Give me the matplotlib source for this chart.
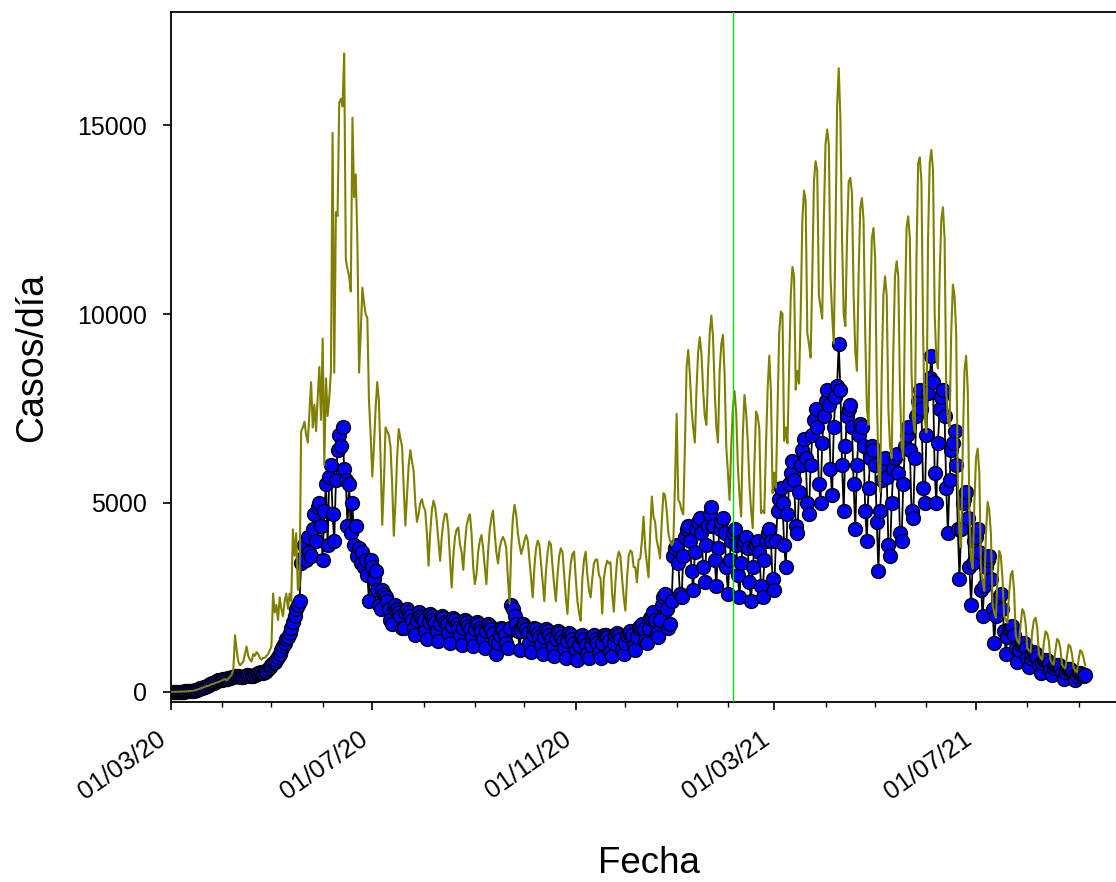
import numpy as np
import pandas as pd
import matplotlib
matplotlib.use("Agg")
import matplotlib.pyplot as plt
import matplotlib.dates as mdates
from matplotlib.transforms import ScaledTranslation

plt.rcParams['font.family'] = ['Liberation Sans', 'DejaVu Sans']

# daily values, one row per week (Mon..Sun), first day 2020-03-02
inicio = "2020-03-02"
vacunacion = "2021-02-04"

casos_mar_jun20 = [
    0, 1, 1, 2, 3, 4, 6,
    7, 9, 12, 15, 20, 25, 31,
    45, 60, 80, 95, 110, 125, 140,
    160, 180, 200, 220, 240, 260, 280,
    300, 310, 320, 330, 340, 350, 360,
    370, 380, 400, 410, 420, 410, 400,
    390, 400, 420, 440, 450, 430, 410,
    420, 450, 480, 500, 510, 520, 500,
    530, 560, 600, 650, 700, 750, 800,
    850, 920, 1000, 1100, 1200, 1300, 1400,
    1450, 1550, 1700, 1850, 2000, 2200, 2300,
    2400, 3400, 3550, 3900, 3500, 4100, 3700,
    3600, 4300, 4700, 4000, 4900, 5000, 4400,
    3500, 4800, 5500, 3900, 5700, 6000, 4700,
    4000, 5600, 6400, 6800, 6500, 7000, 5900,
    5600, 4400, 5500, 4200, 5000, 3900, 4400,
    3600, 3800, 3400, 3700, 3300, 3500, 3100,
    2400, 3500, 3300, 3000, 3200, 2700, 2300,
]
casos_jul_oct20 = [
    2200, 2700, 2600, 2500, 2400, 2200, 1900,
    1800, 2200, 2300, 2200, 2100, 2000, 1700,
    1700, 2100, 2200, 2100, 2000, 1900, 1700,
    1500, 1900, 2100, 2000, 1950, 1900, 1600,
    1400, 1850, 2050, 2000, 1900, 1850, 1600,
    1350, 1800, 2000, 1950, 1850, 1800, 1550,
    1300, 1750, 1950, 1900, 1800, 1700, 1500,
    1250, 1700, 1900, 1850, 1750, 1650, 1450,
    1200, 1650, 1850, 1800, 1700, 1600, 1400,
    1150, 1600, 1800, 1750, 1650, 1550, 1350,
    1000, 1300, 1500, 1700, 1650, 1500, 1300,
    1150, 1700, 2300, 2200, 2000, 1800, 1600,
    1100, 1600, 1800, 1750, 1650, 1550, 1300,
    1050, 1500, 1700, 1650, 1550, 1450, 1250,
    1000, 1450, 1650, 1600, 1500, 1400, 1200,
    950, 1400, 1600, 1550, 1450, 1350, 1150,
    900, 1350, 1550, 1500, 1400, 1300, 1100,
]
casos_nov20_feb21 = [
    850, 1250, 1450, 1500, 1400, 1250, 1000,
    900, 1250, 1450, 1500, 1400, 1300, 1050,
    900, 1300, 1500, 1500, 1450, 1350, 1050,
    950, 1300, 1500, 1550, 1500, 1400, 1100,
    1000, 1300, 1500, 1550, 1600, 1500, 1200,
    1100, 1450, 1700, 1750, 1800, 1650, 1350,
    1300, 1700, 1950, 2000, 2100, 1900, 1550,
    1450, 1900, 2300, 2500, 2600, 2200, 1700,
    1800, 2400, 3600, 3800, 3900, 3400, 2600,
    2500, 3600, 4100, 4300, 4400, 4000, 3200,
    2700, 3700, 4300, 4500, 4600, 4200, 3300,
    2900, 3900, 4400, 4700, 4900, 4400, 3500,
    2800, 3800, 4300, 4500, 4600, 4200, 3300,
    2600, 3500, 4000, 4200, 4300, 3900, 3100,
    2500, 3400, 3900, 4000, 4100, 3800, 2900,
    2400, 3300, 3800, 3900, 4000, 3700, 2800,
    2500, 3500, 4000, 4200, 4300, 4000, 3000,
]
casos_mar_jun21 = [
    2700, 4000, 4800, 5100, 5400, 5000, 3900,
    3300, 4700, 5500, 5800, 6100, 5600, 4400,
    4200, 5300, 6000, 6400, 6700, 6200, 5000,
    4700, 6000, 6800, 7200, 7500, 7000, 5500,
    5000, 6600, 7300, 7700, 8000, 7600, 5900,
    5200, 7000, 7800, 8100, 9200, 8000, 6000,
    4800, 6500, 7300, 7500, 7600, 7000, 5500,
    4300, 6000, 6800, 7100, 7000, 6500, 4800,
    4000, 5400, 6200, 6500, 6400, 6000, 4500,
    3200, 4800, 5600, 6000, 6200, 5700, 3900,
    3600, 5000, 5900, 6200, 6300, 5800, 4200,
    4000, 5500, 6500, 6800, 7000, 6400, 4800,
    4600, 6200, 7300, 7700, 8000, 7500, 5400,
    5000, 6800, 7900, 8300, 8900, 8200, 5800,
    5000, 6600, 7500, 7800, 8000, 7300, 5400,
    4200, 5600, 6400, 6600, 6900, 6000, 4300,
    3000, 4300, 5000, 5100, 5300, 4600, 3300,
]
casos_jul_sep21 = [
    2300, 3400, 4000, 4100, 4300, 3700, 2700,
    2000, 2800, 3300, 3500, 3600, 3000, 2200,
    1300, 2000, 2400, 2500, 2600, 2200, 1600,
    1000, 1450, 1650, 1700, 1750, 1500, 1150,
    800, 1100, 1250, 1300, 1300, 1150, 900,
    650, 900, 1000, 1050, 1000, 900, 700,
    500, 750, 850, 850, 850, 750, 580,
    450, 620, 700, 700, 700, 620, 500,
    350, 520, 600, 600, 600, 530, 420,
    300, 430, 500, 500, 480, 420, 450,
]

olive_mar_jun20 = [
    0, 0, 1, 2, 3, 4, 6,
    8, 10, 12, 15, 20, 25, 30,
    40, 55, 70, 85, 100, 120, 140,
    150, 160, 180, 200, 210, 230, 250,
    260, 280, 300, 320, 340, 300, 350,
    400, 450, 600, 1500, 1100, 800, 700,
    750, 800, 1000, 1200, 950, 850, 800,
    1000, 950, 1050, 1000, 900, 850, 900,
    900, 950, 1000, 1100, 1200, 2600, 2100,
    2300, 1900, 2500, 2200, 2000, 2400, 2600,
    2200, 2600, 2400, 4300, 3600, 4200, 2700,
    2800, 6900, 7000, 7150, 6800, 6600, 7400,
    8200, 7000, 7600, 6900, 7800, 8600, 7200,
    9350, 6000, 8300, 7300, 7800, 8500, 14800,
    8450, 12700, 12600, 15600, 15700, 15500, 16900,
    11450, 11200, 11000, 10600, 15200, 13100, 13700,
    11900, 8450, 9500, 10700, 10300, 10000, 9900,
    7700, 6800, 5700, 6500, 7500, 8200, 7700,
]
olive_jul_oct20 = [
    6200, 4420, 5500, 7000, 6900, 6800, 6500,
    5500, 4130, 5000, 6200, 6960, 6700, 6500,
    5400, 4400, 5200, 6000, 6400, 6100, 5850,
    5000, 4500, 4700, 5000, 5100, 4900, 4800,
    4200, 3340, 4200, 4800, 5060, 4900, 4500,
    4000, 3470, 4100, 4500, 4720, 4700, 4300,
    3500, 2760, 3600, 4100, 4300, 4350, 3900,
    3700, 3230, 3900, 4400, 4590, 4700, 4200,
    3300, 2850, 3100, 3700, 4000, 4150, 3800,
    3300, 2850, 3700, 4300, 4600, 4800, 4200,
    3700, 3400, 3800, 4000, 4100, 4000, 3800,
    3000, 2330, 3800, 4600, 4950, 4700, 4200,
    3900, 3650, 3800, 4000, 4150, 4000, 3500,
    3000, 2500, 3300, 3800, 4000, 3900, 3400,
    2900, 2400, 3200, 3700, 3980, 3900, 3300,
    2800, 2400, 3100, 3600, 3800, 3700, 3100,
    2500, 2060, 2900, 3400, 3650, 3710, 3000,
]
olive_nov20_feb21 = [
    2400, 2100, 1880, 3000, 3500, 3710, 3100,
    2700, 2500, 3000, 3400, 3500, 3500, 3100,
    3000, 2070, 3000, 3300, 3470, 3400, 3430,
    2600, 2120, 2900, 3500, 3710, 3600, 3000,
    2500, 2150, 3000, 3600, 3740, 3700, 3300,
    3300, 2900, 3500, 3530, 4000, 4640, 3800,
    3400, 3030, 4200, 5170, 4640, 4500, 4000,
    3800, 3530, 4500, 5260, 5200, 4800, 4200,
    4000, 3880, 3970, 5500, 7360, 5080, 5000,
    4800, 4700, 6500, 8600, 9050, 8400, 7500,
    7000, 6600, 8000, 9000, 9390, 8950, 8000,
    7300, 7070, 8500, 9500, 9960, 9400, 8000,
    7000, 6600, 8500, 9200, 9450, 8400, 6500,
    5800, 5080, 6500, 7500, 7960, 7400, 6000,
    5200, 4640, 6800, 7860, 7400, 6640, 5500,
    4800, 4330, 6000, 7420, 7300, 6960, 4730,
    4800, 4730, 6500, 8000, 8900, 7980, 5260,
]
olive_mar_jun21 = [
    5800, 5400, 7500, 9500, 10070, 10010, 6640,
    7000, 6580, 8500, 10500, 11250, 11000, 8000,
    8500, 8160, 10000, 12500, 13270, 13000, 9500,
    9200, 8850, 11000, 13500, 14050, 13800, 10500,
    10200, 9880, 12500, 14500, 14890, 14500, 11000,
    10000, 9220, 12000, 15500, 16510, 15200, 12000,
    10000, 9680, 12000, 13500, 13610, 13200, 10500,
    9000, 8500, 11000, 12800, 13070, 12500, 9500,
    7500, 7070, 10000, 12000, 12280, 11500, 8000,
    5800, 5300, 8500, 10500, 11000, 10500, 7500,
    6500, 6190, 9000, 11000, 11400, 11000, 8000,
    6500, 6190, 10000, 12300, 12590, 12000, 8500,
    7200, 6870, 11500, 14000, 14150, 13500, 9500,
    7200, 6870, 12000, 14000, 14350, 13800, 10000,
    8800, 8560, 11000, 12500, 12830, 12000, 8000,
    7200, 7020, 9500, 10780, 10500, 9500, 5500,
    4200, 3830, 6500, 8500, 8900, 8000, 4800,
]
olive_jul_sep21 = [
    3500, 3260, 5000, 6200, 6440, 5800, 3200,
    2900, 2670, 4200, 5030, 4800, 4200, 2300,
    2100, 1960, 3000, 3730, 3600, 3000, 2000,
    1900, 1830, 2600, 3100, 3200, 2700, 1500,
    1350, 1280, 1800, 2190, 2100, 1800, 1150,
    1100, 1050, 1600, 1900, 1960, 1700, 1000,
    900, 850, 1300, 1600, 1550, 1350, 850,
    750, 720, 1100, 1400, 1350, 1150, 720,
    650, 620, 950, 1250, 1200, 1000, 650,
    550, 520, 850, 1100, 1050, 900, 700,
]

fechas_x = ["2020-03-01", "2020-07-01", "2020-11-01", "2021-03-01", "2021-07-01"]
etiquetas_x = ["01/03/20", "01/07/20", "01/11/20", "01/03/21", "01/07/21"]
ticks_y = [0, 5000, 10000, 15000]

casos = np.array(casos_mar_jun20 + casos_jul_oct20 + casos_nov20_feb21
                 + casos_mar_jun21 + casos_jul_sep21)
olive = np.array(olive_mar_jun20 + olive_jul_oct20 + olive_nov20_feb21
                 + olive_mar_jun21 + olive_jul_sep21)
fechas = pd.date_range(inicio, periods=len(casos), freq="D").to_numpy()

fig = plt.figure(figsize=(11.16, 8.82), dpi=100)
# axes run past the right edge of the picture, like the original crop
ax = fig.add_axes([170.5 / 1116, 180 / 882, 957.7 / 1116, 690 / 882])

ax.plot(fechas, casos, '-o', color='black', lw=1.3, ms=10,
        mfc='#0000ff', mec='black', mew=1.0, zorder=2)
ax.plot(fechas, olive, color='#808000', lw=1.5, zorder=3)
ax.axvline(np.datetime64(vacunacion), color='#00e000', lw=1.0, zorder=4)

ax.set_xlim(np.datetime64("2020-03-01"), np.datetime64("2021-10-01"))
ax.set_ylim(-270, 18000)

ax.set_xticks([np.datetime64(d) for d in fechas_x])
ax.set_xticklabels(etiquetas_x, rotation=35, ha='right', rotation_mode='anchor')
ax.xaxis.set_minor_locator(mdates.MonthLocator())
ax.set_yticks(ticks_y)
ax.set_yticklabels([str(v) for v in ticks_y])

for s in ax.spines.values():
    s.set_linewidth(1.3)
ax.tick_params(axis='both', which='major', direction='out', length=6,
               width=1.2, labelsize=18)
ax.tick_params(axis='x', which='major', pad=12, labelsize=18.5)
ax.tick_params(axis='y', which='major', pad=11)
ax.tick_params(axis='x', which='minor', direction='out', length=3.6, width=1.0)

# nudge the slanted date labels a bit to the left
shift = ScaledTranslation(-0.14, 0, fig.dpi_scale_trans)
for lbl in ax.get_xticklabels():
    lbl.set_transform(lbl.get_transform() + shift)

ax.set_ylabel("Casos/día", fontsize=27)
ax.yaxis.set_label_coords(-0.126, 0.5)
ax.set_xlabel("Fecha", fontsize=26.5)
ax.xaxis.set_label_coords(0.5, -0.208)

fig.savefig("out.png", dpi=100)
